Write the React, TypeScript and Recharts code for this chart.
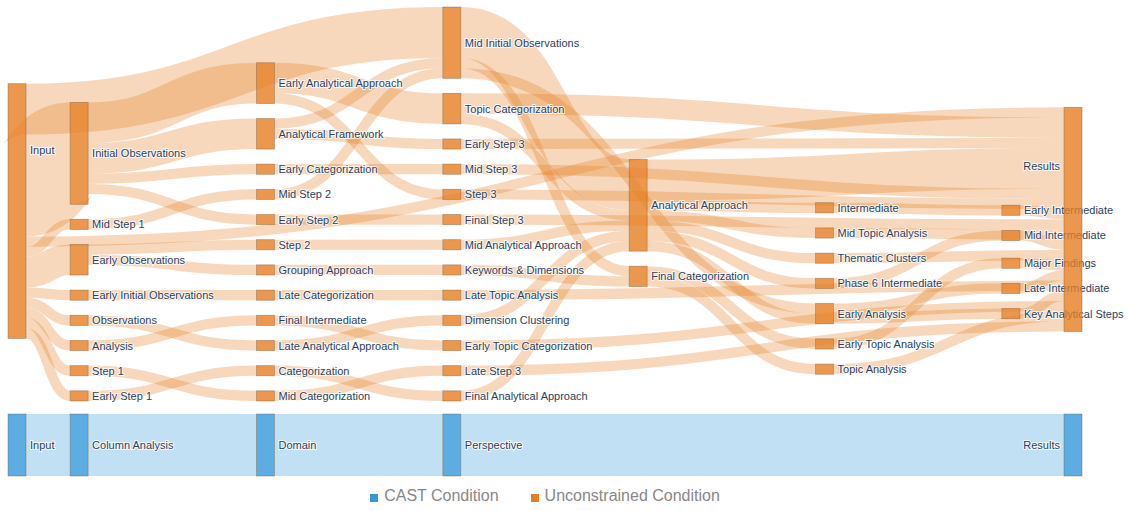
import React from "react";
import { Sankey } from "recharts";

// Unconstrained condition (orange): nodes in column order, top to bottom
const ORANGE_NODES = [
  "Input",
  "Initial Observations", "Mid Step 1", "Early Observations", "Early Initial Observations",
  "Observations", "Analysis", "Step 1", "Early Step 1",
  "Early Analytical Approach", "Analytical Framework", "Early Categorization", "Mid Step 2",
  "Early Step 2", "Step 2", "Grouping Approach", "Late Categorization", "Final Intermediate",
  "Late Analytical Approach", "Categorization", "Mid Categorization",
  "Mid Initial Observations", "Topic Categorization", "Early Step 3", "Mid Step 3", "Step 3",
  "Final Step 3", "Mid Analytical Approach", "Keywords & Dimensions", "Late Topic Analysis",
  "Dimension Clustering", "Early Topic Categorization", "Late Step 3", "Final Analytical Approach",
  "Analytical Approach", "Final Categorization",
  "Intermediate", "Mid Topic Analysis", "Thematic Clusters", "Phase 6 Intermediate",
  "Early Analysis", "Early Topic Analysis", "Topic Analysis",
  "Early Intermediate", "Mid Intermediate", "Major Findings", "Late Intermediate", "Key Analytical Steps",
  "Results",
];

type Flow = [string, string, number];

const INPUT_FLOWS: Flow[] = [
  ["Input", "Results", 1],
  ["Input", "Mid Initial Observations", 5],
  ["Input", "Initial Observations", 10],
  ["Input", "Mid Step 1", 1],
  ["Input", "Early Observations", 3],
  ["Input", "Early Initial Observations", 1],
  ["Input", "Observations", 1],
  ["Input", "Analysis", 1],
  ["Input", "Step 1", 1],
  ["Input", "Early Step 1", 1],
];

const STAGE2_FLOWS: Flow[] = [
  ["Initial Observations", "Early Analytical Approach", 4],
  ["Initial Observations", "Analytical Framework", 3],
  ["Initial Observations", "Early Categorization", 1],
  ["Initial Observations", "Early Step 2", 1],
  ["Mid Step 1", "Mid Step 2", 1],
  ["Early Observations", "Step 2", 1],
  ["Early Observations", "Grouping Approach", 1],
  ["Early Initial Observations", "Late Categorization", 1],
  ["Observations", "Late Analytical Approach", 1],
  ["Analysis", "Final Intermediate", 1],
  ["Step 1", "Mid Categorization", 1],
  ["Early Step 1", "Categorization", 1],
];

const STAGE3_FLOWS: Flow[] = [
  ["Early Analytical Approach", "Topic Categorization", 3],
  ["Early Analytical Approach", "Step 3", 1],
  ["Analytical Framework", "Early Step 3", 1],
  ["Analytical Framework", "Mid Initial Observations", 1],
  ["Early Categorization", "Mid Step 3", 1],
  ["Mid Step 2", "Mid Initial Observations", 1],
  ["Early Step 2", "Final Step 3", 1],
  ["Step 2", "Mid Analytical Approach", 1],
  ["Grouping Approach", "Keywords & Dimensions", 1],
  ["Late Categorization", "Late Topic Analysis", 1],
  ["Final Intermediate", "Early Topic Categorization", 1],
  ["Late Analytical Approach", "Dimension Clustering", 1],
  ["Categorization", "Final Analytical Approach", 1],
  ["Mid Categorization", "Late Step 3", 1],
];

const STAGE4_FLOWS: Flow[] = [
  ["Mid Initial Observations", "Analytical Approach", 5],
  ["Mid Initial Observations", "Final Categorization", 1],
  ["Mid Initial Observations", "Early Analysis", 1],
  ["Topic Categorization", "Results", 2],
  ["Topic Categorization", "Analytical Approach", 1],
  ["Early Step 3", "Results", 1],
  ["Mid Step 3", "Results", 1],
  ["Step 3", "Results", 1],
  ["Final Step 3", "Results", 1],
  ["Mid Analytical Approach", "Analytical Approach", 1],
  ["Keywords & Dimensions", "Final Categorization", 1],
  ["Late Topic Analysis", "Results", 1],
  ["Dimension Clustering", "Analytical Approach", 1],
  ["Early Topic Categorization", "Results", 1],
  ["Late Step 3", "Results", 1],
  ["Final Analytical Approach", "Analytical Approach", 1],
];

const STAGE5_FLOWS: Flow[] = [
  ["Analytical Approach", "Results", 4],
  ["Analytical Approach", "Intermediate", 1],
  ["Analytical Approach", "Mid Topic Analysis", 1],
  ["Analytical Approach", "Thematic Clusters", 1],
  ["Analytical Approach", "Phase 6 Intermediate", 1],
  ["Analytical Approach", "Early Analysis", 1],
  ["Final Categorization", "Early Topic Analysis", 1],
  ["Final Categorization", "Topic Analysis", 1],
];

const STAGE6_FLOWS: Flow[] = [
  ["Intermediate", "Early Intermediate", 1],
  ["Mid Topic Analysis", "Results", 1],
  ["Thematic Clusters", "Results", 1],
  ["Phase 6 Intermediate", "Mid Intermediate", 1],
  ["Early Analysis", "Late Intermediate", 1],
  ["Early Analysis", "Key Analytical Steps", 1],
  ["Early Topic Analysis", "Major Findings", 1],
  ["Topic Analysis", "Results", 1],
  ["Early Intermediate", "Results", 1],
  ["Mid Intermediate", "Results", 1],
  ["Major Findings", "Results", 1],
  ["Late Intermediate", "Results", 1],
  ["Key Analytical Steps", "Results", 1],
];

// CAST condition (blue)
const BLUE_NODES = ["Input", "Column Analysis", "Domain", "Perspective", "Results"];
const BLUE_FLOWS: Flow[] = [
  ["Input", "Column Analysis", 6],
  ["Column Analysis", "Domain", 6],
  ["Domain", "Perspective", 6],
  ["Perspective", "Results", 6],
];

const NODE_W = 18;
const LEFT = 8;
const INNER_W = 1074;
// column slots on a 17-step grid, like the original's fixed node columns
const ORANGE_SLOTS = [0, 1, 4, 7, 10, 13, 16, 17];
const BLUE_SLOTS = [0, 1, 4, 7, 17];

function buildData(names: string[], flows: Flow[]) {
  return {
    nodes: names.map((name) => ({ name })),
    links: flows.map(([s, t, v]) => ({ source: names.indexOf(s), target: names.indexOf(t), value: v })),
  };
}

const colX = (depth: number, slots: number[]) =>
  LEFT + (slots[depth] * (INNER_W - NODE_W)) / slots[slots.length - 1];

function makeNode(slots: number[], fill: string) {
  return function SankeyNode(props: any) {
    const { y, height, payload } = props;
    const depth = payload.depth ?? 0;
    const x = colX(depth, slots);
    const last = depth === slots.length - 1;
    // tall end nodes carry their label in the upper part, as in the original
    const labelY = height > 150 ? y + height * 0.26 : y + height / 2;
    return (
      <g>
        <rect x={x} y={y} width={NODE_W} height={height} fill={fill} stroke="rgba(110,80,50,0.45)" strokeWidth={0.8} />
        <text
          x={last ? x - 4 : x + NODE_W + 4}
          y={labelY}
          textAnchor={last ? "end" : "start"}
          dominantBaseline="central"
          fontSize={11}
          fontFamily="'Liberation Sans', Arial, sans-serif"
          fill="#2a3f5f"
          stroke="#fff"
          strokeWidth={2}
          strokeOpacity={0.8}
          style={{ paintOrder: "stroke" }}
        >
          {payload.name}
        </text>
      </g>
    );
  };
}

function makeLink(slots: number[], color: string) {
  return function SankeyLink(props: any) {
    const { sourceY, targetY, linkWidth, payload } = props;
    const sx = colX(payload.source.depth, slots) + NODE_W;
    const tx = colX(payload.target.depth, slots);
    const c1 = sx + (tx - sx) * 0.5;
    const c2 = tx - (tx - sx) * 0.5;
    return (
      <path
        d={`M${sx},${sourceY} C${c1},${sourceY} ${c2},${targetY} ${tx},${targetY}`}
        fill="none"
        stroke={color}
        strokeWidth={linkWidth}
      />
    );
  };
}

const orangeData = buildData(ORANGE_NODES, [
  ...INPUT_FLOWS, ...STAGE2_FLOWS, ...STAGE3_FLOWS, ...STAGE4_FLOWS, ...STAGE5_FLOWS, ...STAGE6_FLOWS,
]);
const blueData = buildData(BLUE_NODES, BLUE_FLOWS);

const OrangeNode = makeNode(ORANGE_SLOTS, "rgba(230,126,34,0.8)");
const OrangeLink = makeLink(ORANGE_SLOTS, "rgba(230,126,34,0.3)");
const BlueNode = makeNode(BLUE_SLOTS, "rgba(52,152,219,0.8)");
const BlueLink = makeLink(BLUE_SLOTS, "rgba(52,152,219,0.3)");

export default function App() {
  return (
    <div style={{ position: "relative", width: 1132, height: 511, background: "#fff" }}>
      <style>{`body{margin:0}`}</style>
      <div style={{ position: "absolute", left: 0, top: 0 }}>
        <Sankey
          width={1132}
          height={405}
          data={orangeData}
          nodeWidth={NODE_W}
          nodePadding={15}
          sort={false}
          margin={{ top: 7, left: LEFT, right: 1132 - LEFT - INNER_W, bottom: 4 }}
          node={<OrangeNode />}
          link={<OrangeLink />}
        />
      </div>
      <div style={{ position: "absolute", left: 0, top: 0 }}>
        <Sankey
          width={1132}
          height={480}
          data={blueData}
          nodeWidth={NODE_W}
          nodePadding={15}
          margin={{ top: 414, left: LEFT, right: 1132 - LEFT - INNER_W, bottom: 4 }}
          node={<BlueNode />}
          link={<BlueLink />}
        />
      </div>
      <div
        style={{
          position: "absolute",
          top: 487,
          left: 0,
          width: 1090,
          display: "flex",
          justifyContent: "center",
          gap: 32,
          fontFamily: "'Liberation Sans', Arial, sans-serif",
          fontSize: 16,
          color: "#888",
        }}
      >
        <span style={{ display: "flex", alignItems: "center" }}>
          <span style={{ width: 8, height: 8, background: "#3498db", marginRight: 6, marginTop: 3 }} />
          CAST Condition
        </span>
        <span style={{ display: "flex", alignItems: "center" }}>
          <span style={{ width: 8, height: 8, background: "#e67e22", marginRight: 6, marginTop: 3 }} />
          Unconstrained Condition
        </span>
      </div>
    </div>
  );
}
